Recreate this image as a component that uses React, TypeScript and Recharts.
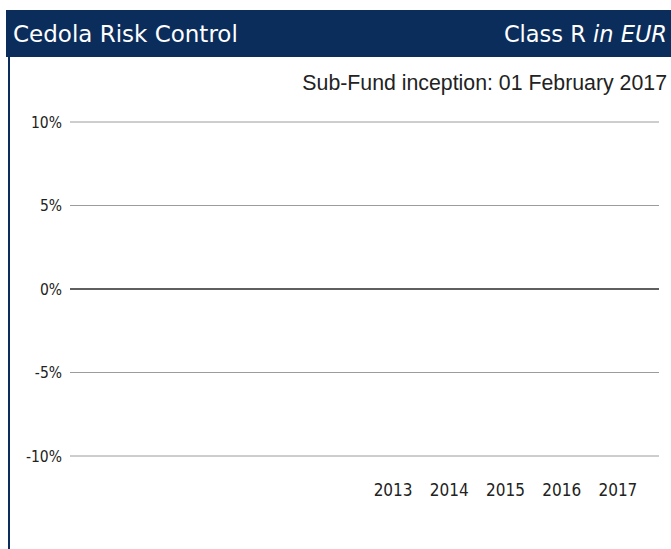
import React from 'react';
import { BarChart, Bar, XAxis, YAxis, CartesianGrid, ReferenceLine } from 'recharts';

const years = ['2013', '2014', '2015', '2016', '2017'];
const classReturns: (number | null)[] = [null, null, null, null, null];
const yTicks = [-10, -5, 0, 5, 10];

const NAVY = '#0b2d5c';

const data = years.map((year, i) => ({ year, value: classReturns[i] }));

const App: React.FC = () => {
  return (
    <div style={{ position: 'absolute', left: 0, top: 0, width: 671, height: 549, background: '#fff', overflow: 'hidden' }}>
      <div
        style={{
          position: 'absolute', left: 6, top: 10, width: 665, height: 47, background: NAVY,
          color: '#fff', fontFamily: '"DejaVu Sans", sans-serif', fontSize: 23,
          display: 'flex', alignItems: 'center', justifyContent: 'space-between', boxSizing: 'border-box',
          padding: '0 4px 0 7px',
        }}
      >
        <span>Cedola Risk Control</span>
        <span style={{ fontSize: 22.5 }}>Class R <i>in EUR</i></span>
      </div>
      <div style={{ position: 'absolute', left: 8, top: 57, width: 2, height: 492, background: NAVY }} />
      <div
        style={{
          position: 'absolute', right: 4, top: 71, fontFamily: '"Liberation Sans", Arial, sans-serif',
          fontSize: 21.3, color: '#222', whiteSpace: 'nowrap',
        }}
      >
        Sub-Fund inception: 01 February 2017
      </div>
      <div style={{ position: 'absolute', left: 0, top: 0 }}>
        <BarChart width={671} height={549} data={data} margin={{ top: 122, right: 12, bottom: 63, left: 10 }}>
          <CartesianGrid vertical={false} stroke="#9c9c9c" />
          <XAxis
            dataKey="year"
            axisLine={false}
            tickLine={false}
            height={30}
            tickMargin={22}
            padding={{ left: 295, right: 13 }}
            tick={{ fill: '#222', fontSize: 17, fontFamily: '"DejaVu Sans Condensed", "DejaVu Sans", sans-serif' }}
          />
          <YAxis
            type="number"
            domain={[-10, 10]}
            allowDataOverflow
            ticks={yTicks}
            width={60}
            axisLine={false}
            tickLine={false}
            tickFormatter={(v: number) => `${v}%`}
            tick={{ fill: '#222', fontSize: 15.5, fontFamily: '"DejaVu Sans Condensed", "DejaVu Sans", sans-serif' }}
          />
          <ReferenceLine y={0} stroke="#3a3a3a" strokeWidth={1.5} />
          <Bar dataKey="value" fill={NAVY} isAnimationActive={false} />
        </BarChart>
      </div>
    </div>
  );
};

export default App;
